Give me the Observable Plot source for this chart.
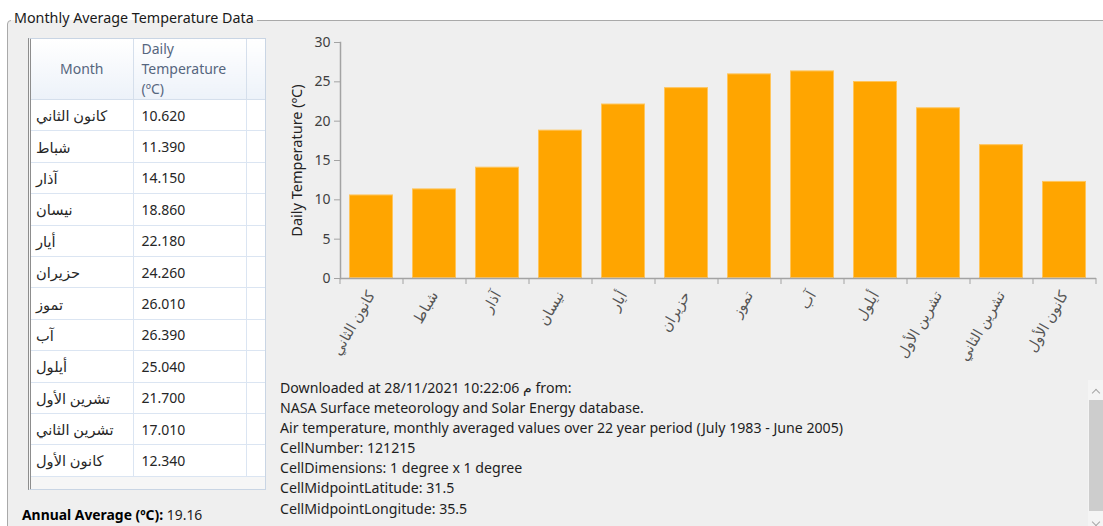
<!DOCTYPE html>
<html>
<head>
<meta charset="utf-8">
<script src="https://cdn.jsdelivr.net/npm/d3@7"></script>
<script src="https://cdn.jsdelivr.net/npm/@observablehq/plot@0.6"></script>
<style>
  html, body { margin: 0; padding: 0; }
  body { width: 1103px; height: 526px; overflow: hidden; background: #fff; position: relative;
         font-family: "Noto Sans", "DejaVu Sans", sans-serif; color: #222; }
  #gb { position: absolute; left: 7px; top: 20px; width: 1200px; height: 600px;
        border: 1px solid #a9a9a9; border-radius: 4px; background: #efefef; box-sizing: border-box; }
  #gbTitle { position: absolute; left: 11px; top: 8px; height: 20px; line-height: 20px; padding: 0 3px;
             font-size: 14.3px; color: #1a1a1a; background: linear-gradient(to bottom, #fff 0 12px, #efefef 12px 20px); }
  #tbl { position: absolute; left: 28px; top: 38px; width: 238px; height: 452px; box-sizing: border-box;
         border: 1px solid #c9d5e4; border-left: 3px double #8d8d8d; background: #f6f6f6; overflow: hidden; }
  #tbl table { border-collapse: collapse; table-layout: fixed; width: 235px; font-size: 14px; }
  #tbl th { height: 59px; background: linear-gradient(to bottom, #ffffff, #edf2f9); color: #56667e;
            font-weight: normal; border-right: 1px solid #d5dfec; border-bottom: 1px solid #d5dfec; padding: 0; line-height: 20px; }
  #tbl td { height: 30.4px; background: #fff; border-right: 1px solid #dbe5f2; border-bottom: 1px solid #dbe5f2;
            padding: 0 0 0 5px; color: #262626; white-space: nowrap; }
  #tbl th.c2 { text-align: left; padding-left: 8px; }
  #tbl td.c2 { padding-left: 8px; }
  #tbl td.c1 { text-align: left; direction: ltr; font-size: 14.6px; }
  #annual { position: absolute; left: 22px; top: 505px; font-size: 13.9px; color: #222; }
  #annual b { color: #000; }
  #chart { position: absolute; left: 270px; top: 30px; }
  #info { position: absolute; left: 280px; top: 378px; font-size: 14.15px; line-height: 20.1px; color: #1e1e1e; white-space: nowrap; }
  #sb { position: absolute; left: 1088px; top: 380px; width: 15px; height: 146px; background: #f4f4f4; }
  #thumb { position: absolute; left: 1089px; top: 400px; width: 14px; height: 111px; background: #cdcdcd; }
  .chev { position: absolute; width: 5px; height: 5px; border-left: 1.3px solid #a6a6a6; border-top: 1.3px solid #a6a6a6; }
</style>
</head>
<body>
<div id="gb"></div>
<div id="gbTitle"></div>
<div id="tbl"></div>
<div id="annual"></div>
<div id="chart"></div>
<div id="info"></div>
<div id="sb"></div>
<div id="thumb"></div>
<div class="chev" style="left:1093px; top:390px; transform: rotate(45deg);"></div>
<div class="chev" style="left:1093px; top:519px; transform: rotate(225deg);"></div>
<script>
// ---- data ----
const title = "Monthly Average Temperature Data";
const months = ["كانون الثاني", "شباط", "آذار", "نيسان", "أيار", "حزيران", "تموز", "آب", "أيلول", "تشرين الأول", "تشرين الثاني", "كانون الأول"];
const temps = [10.62, 11.39, 14.15, 18.86, 22.18, 24.26, 26.01, 26.39, 25.04, 21.70, 17.01, 12.34];
const yTicks = [0, 5, 10, 15, 20, 25, 30];
const yLabel = "Daily Temperature (ºC)";
const tableHeaders = ["Month", "Daily<br>Temperature<br>(ºC)"];
const annualLabel = "Annual Average (ºC):";
const annualValue = "19.16";
const infoLines = [
  "Downloaded at 28/11/2021 10:22:06 م from:",
  "NASA Surface meteorology and Solar Energy database.",
  "Air temperature, monthly averaged values over 22 year period (July 1983 - June 2005)",
  "CellNumber: 121215",
  "CellDimensions: 1 degree x 1 degree",
  "CellMidpointLatitude: 31.5",
  "CellMidpointLongitude: 35.5"
];

// ---- texts ----
document.getElementById("gbTitle").textContent = title;
document.getElementById("annual").innerHTML = `<b>${annualLabel}</b> ${annualValue}`;
document.getElementById("info").innerHTML = infoLines.map(l => `<div><bdi>${l}</bdi></div>`).join("");

// ---- table ----
let html = `<table><colgroup><col style="width:102px"><col style="width:113px"><col style="width:20px"></colgroup>`;
html += `<tr><th>${tableHeaders[0]}</th><th class="c2">${tableHeaders[1]}</th><th></th></tr>`;
months.forEach((m, i) => {
  html += `<tr><td class="c1"><span dir="rtl">${m}</span></td><td class="c2">${temps[i].toFixed(3)}</td><td></td></tr>`;
});
html += `</table>`;
document.getElementById("tbl").innerHTML = html;

// ---- chart ----
const data = months.map((m, i) => ({month: m, temp: temps[i]}));
const W = 833, H = 350, mL = 70, mR = 7, mT = 12, mB = 102;
const step = (W - mL - mR) / months.length;
const axisColor = "#a3a3a3";

const chart = Plot.plot({
  width: W, height: H,
  marginLeft: mL, marginRight: mR, marginTop: mT, marginBottom: mB,
  style: {background: "transparent", fontFamily: "'Noto Sans', 'DejaVu Sans', sans-serif", fontSize: "14px", color: "#444", overflow: "visible"},
  x: {domain: months, paddingInner: 0.3, paddingOuter: 0.15, axis: null},
  y: {domain: [0, 30], axis: null},
  marks: [
    Plot.barY(data, {x: "month", y: "temp", fill: "#ffa500", stroke: "#ffc55c", strokeWidth: 1, inset: 0.5}),
    Plot.frame({anchor: "left", stroke: axisColor, strokeWidth: 1.5}),
    Plot.ruleY([0], {stroke: axisColor, strokeWidth: 1.5}),
    Plot.axisY({ticks: yTicks, tickSize: 6, tickPadding: 4, stroke: axisColor, label: null, fill: "#3f3f3f", fontSize: 14}),
    Plot.axisX({tickSize: 6, dx: -step / 2, tickFormat: () => "", stroke: axisColor, label: null}),
    Plot.axisX({ticks: [months[months.length - 1]], tickSize: 6, dx: step / 2, tickFormat: () => "", stroke: axisColor, label: null}),
    Plot.axisX({tickSize: 0, tickPadding: 14, tickRotate: -60, label: null, fill: "#555", fontSize: 14.6}),
    Plot.text([yLabel], {frameAnchor: "left", rotate: -90, dx: -43, textAnchor: "middle", fill: "#222", fontSize: 14.5})
  ]
});
document.getElementById("chart").appendChild(chart);
</script>
</body>
</html>
